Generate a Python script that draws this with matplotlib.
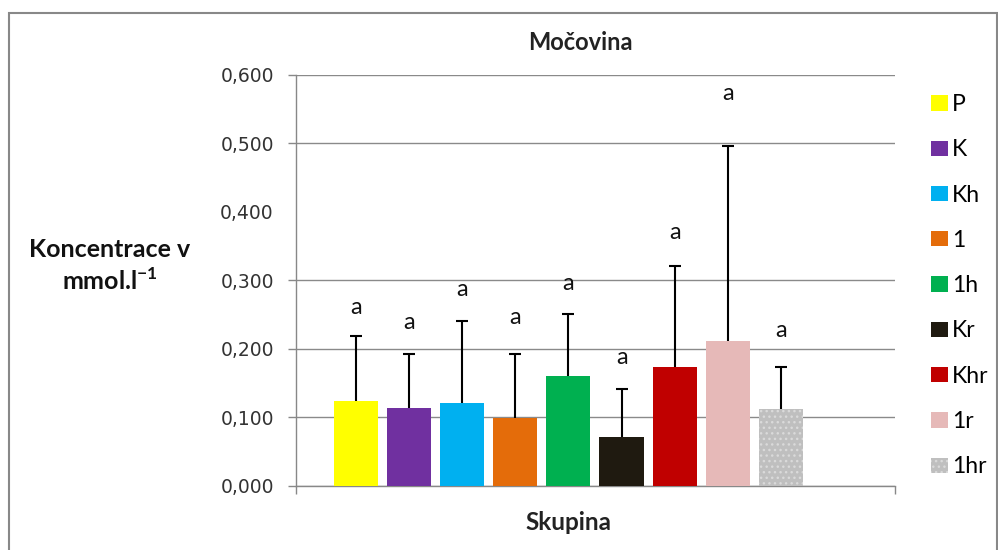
import numpy as np
import matplotlib
matplotlib.use("Agg")
import matplotlib.pyplot as plt
from matplotlib.patches import Rectangle

# ---------------- DATA ----------------
groups = ["P", "K", "Kh", "1", "1h", "Kr", "Khr", "1r", "1hr"]
means = [0.124, 0.113, 0.121, 0.099, 0.160, 0.071, 0.174, 0.211, 0.112]
errors = [0.095, 0.080, 0.119, 0.094, 0.091, 0.071, 0.147, 0.285, 0.061]
letters = ["a"] * 9
letter_y = [0.260, 0.239, 0.286, 0.245, 0.296, 0.188, 0.370, 0.573, 0.227]
colors = ["#FFFF00", "#7030A0", "#00B0F0", "#E46C0A", "#00B050",
          "#1F1A10", "#C00000", "#E6B9B8", "#BFBFBF"]
yticks = [0.0, 0.1, 0.2, 0.3, 0.4, 0.5, 0.6]

TEXT_FONT = ["Lato", "DejaVu Sans"]

# ---------------- PLOT ----------------
fig = plt.figure(figsize=(9.98, 5.5), dpi=100)
ax = fig.add_axes([296 / 998, 1 - 485.7 / 550, 599 / 998, 410.7 / 550])

x = np.arange(len(groups))
bars = []
for i, g in enumerate(groups):
    hatch = "..." if g == "1hr" else None
    b = ax.bar(x[i], means[i], width=0.83, color=colors[i], label=g,
               edgecolor="#dadada" if hatch else colors[i], linewidth=0,
               hatch=hatch, zorder=3)
    bars.append(b)

eb = ax.errorbar(x, means, yerr=[np.zeros(len(means)), errors], fmt="none",
                 ecolor="black", elinewidth=1.5, capsize=4.5, capthick=1.5,
                 zorder=4)
# only the upper cap is drawn in the original
eb[1][0].set_visible(False)

for i, t in enumerate(letters):
    ax.text(x[i], letter_y[i], t, ha="center", va="center",
            fontsize=17, family=TEXT_FONT, color="#111111", zorder=5)

ax.set_xlim(-1.12, 10.14)
ax.set_ylim(0, 0.6)
ax.set_yticks(yticks)
ax.set_yticklabels([f"{v:.3f}".replace(".", ",") for v in yticks],
                   fontsize=13.5, color="#333333")
ax.set_xticks([-1.12, 10.14])
ax.set_xticklabels([])
ax.tick_params(axis="both", direction="out", length=6, color="#888888", width=1)
ax.tick_params(axis="y", pad=10)

ax.grid(axis="y", color="#8a8a8a", linewidth=1, zorder=0)
ax.set_axisbelow(True)
# the 0,400 line and tick are absent in the original
t04 = ax.yaxis.get_major_ticks()[4]
t04.gridline.set_visible(False)
t04.tick1line.set_visible(False)

for s in ["top", "right"]:
    ax.spines[s].set_visible(False)
for s in ["left", "bottom"]:
    ax.spines[s].set_color("#888888")
    ax.spines[s].set_linewidth(1)

fig.text(580 / 998, 1 - 42 / 550, "Močovina", ha="center", va="center",
         fontsize=17, fontweight="bold", family=TEXT_FONT, color="#222222")
fig.text(568 / 998, 1 - 522 / 550, "Skupina", ha="center", va="center",
         fontsize=17.5, fontweight="bold", family=TEXT_FONT, color="#222222")
fig.text(110 / 998, 1 - 266 / 550, "Koncentrace v\nmmol.l$^{\\mathregular{-1}}$",
         ha="center", va="center", fontsize=18, fontweight="bold",
         family=TEXT_FONT, color="#111111", linespacing=1.3)

leg = fig.legend(handles=[b[0] for b in bars], labels=groups,
                 loc="upper left", bbox_to_anchor=(931 / 998, 1 - 94 / 550),
                 frameon=False, handlelength=0.72, handleheight=0.65,
                 handletextpad=0.2, labelspacing=1.06, borderpad=0,
                 borderaxespad=0, prop={"family": TEXT_FONT, "size": 16.5})

fig.patches.append(Rectangle((9 / 998, -0.1), 988 / 998, 1.1 - 13 / 550,
                             transform=fig.transFigure, fill=False,
                             edgecolor="#888888", linewidth=1.5))

fig.savefig("out.png", dpi=100)
